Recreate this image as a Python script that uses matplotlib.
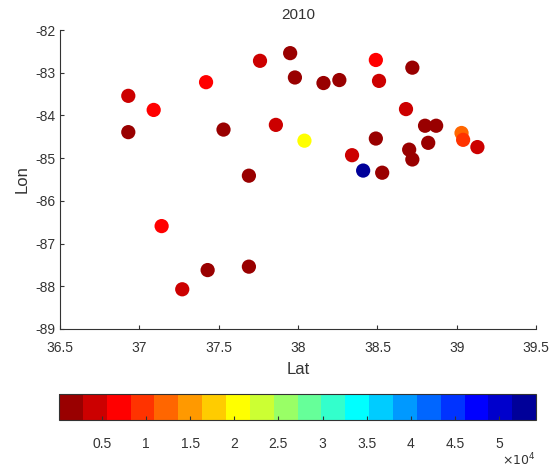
import matplotlib
matplotlib.use("Agg")
import matplotlib.pyplot as plt
from matplotlib.colors import ListedColormap

plt.rcParams["font.family"] = ["Liberation Sans", "DejaVu Sans"]
plt.rcParams["axes.unicode_minus"] = False

lat = [36.93, 36.93, 37.09, 37.42, 37.76, 37.95, 37.98, 37.53, 37.86, 37.69,
       37.14, 37.43, 37.69, 37.27, 38.16, 38.26, 38.49, 38.51, 38.72, 38.68,
       38.80, 38.87, 38.04, 38.49, 38.34, 38.41, 38.53, 38.70, 38.72, 38.82,
       39.03, 39.04, 39.13]
lon = [-83.54, -84.39, -83.87, -83.22, -82.72, -82.54, -83.11, -84.33, -84.22, -85.41,
       -86.59, -87.62, -87.54, -88.07, -83.24, -83.17, -82.70, -83.19, -82.88, -83.85,
       -84.24, -84.24, -84.59, -84.54, -84.93, -85.29, -85.34, -84.80, -85.03, -84.64,
       -84.41, -84.57, -84.74]
value = [4200, 1500, 6800, 6800, 4300, 1200, 1300, 1400, 4300, 1600,
         6600, 1500, 1400, 4500, 1300, 1400, 6000, 5200, 1200, 4600,
         1500, 1300, 20500, 1400, 4700, 54200, 1500, 1400, 1300, 1500,
         12000, 10000, 5000]

vmin, vmax = 130, 54200
cb_ticks = [5000, 10000, 15000, 20000, 25000, 30000, 35000, 40000, 45000, 50000]
cb_labels = ["0.5", "1", "1.5", "2", "2.5", "3", "3.5", "4", "4.5", "5"]

# flipud(jet(20)) as in MATLAB
jet20 = [(0, 0, 0.6), (0, 0, 0.8), (0, 0, 1), (0, 0.2, 1), (0, 0.4, 1),
         (0, 0.6, 1), (0, 0.8, 1), (0, 1, 1), (0.2, 1, 0.8), (0.4, 1, 0.6),
         (0.6, 1, 0.4), (0.8, 1, 0.2), (1, 1, 0), (1, 0.8, 0), (1, 0.6, 0),
         (1, 0.4, 0), (1, 0.2, 0), (1, 0, 0), (0.8, 0, 0), (0.6, 0, 0)]
cmap = ListedColormap(jet20[::-1])

fig = plt.figure(figsize=(5.51, 4.70), dpi=100)
ax = fig.add_axes([0.109, 0.300, 0.864, 0.636])
sc = ax.scatter(lat, lon, c=value, cmap=cmap, vmin=vmin, vmax=vmax,
                s=105, edgecolors="none")

gray = "#333333"
ax.set_xlim(36.5, 39.5)
ax.set_ylim(-89, -82)
ax.set_xticks([36.5, 37, 37.5, 38, 38.5, 39, 39.5])
ax.set_xticklabels(["36.5", "37", "37.5", "38", "38.5", "39", "39.5"])
ax.set_yticks(range(-89, -81))
for s in ["top", "right"]:
    ax.spines[s].set_visible(False)
for s in ["left", "bottom"]:
    ax.spines[s].set_color(gray)
    ax.spines[s].set_linewidth(0.8)
ax.tick_params(direction="in", length=3, colors=gray, labelsize=10,
               labelcolor=gray)
ax.tick_params(axis="x", pad=9)
ax.set_xlabel("Lat", fontsize=12, color=gray, labelpad=5)
ax.set_ylabel("Lon", fontsize=12, color=gray, labelpad=4)
ax.set_title("2010", fontsize=11, color=gray, pad=8)

cax = fig.add_axes([0.107, 0.106, 0.866, 0.055])
cb = fig.colorbar(sc, cax=cax, orientation="horizontal", ticks=cb_ticks)
cb.set_ticklabels(cb_labels)
cb.outline.set_edgecolor(gray)
cb.outline.set_linewidth(0.8)
cax.tick_params(direction="in", length=3, colors=gray, labelsize=10,
                labelcolor=gray, pad=12)
fig.text(0.942, 0.022, r"$\times10^{4}$", fontsize=9, color=gray,
         ha="center", va="center")

fig.savefig("out.png", dpi=100)
